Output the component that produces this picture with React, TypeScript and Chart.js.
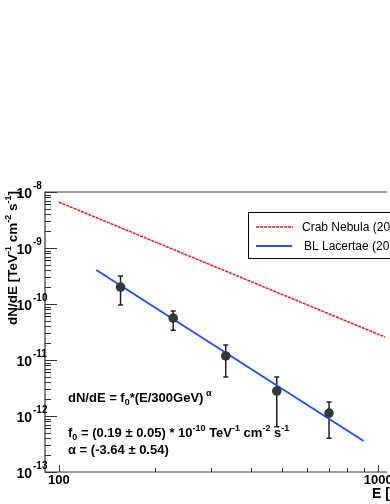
import React, { useEffect, useRef } from "react";
import { Chart, registerables } from "chart.js";

Chart.register(...registerables);

// ---- data ----
const energies = [156, 228, 333, 481, 701]; // GeV
const fluxValues = [2.01e-10, 5.6e-11, 1.18e-11, 2.79e-12, 1.13e-12];
const fluxErrHigh = [3.16e-10, 7.5e-11, 1.85e-11, 4.97e-12, 1.78e-12];
const fluxErrLow = [9.6e-11, 3.4e-11, 4.97e-12, 6.4e-13, 4.0e-13];

const fitEnergies = [131, 900];
const fitFlux = [4.05e-10, 3.58e-13];

const crabEnergies = [100, 1100];
const crabFlux = [6.6e-9, 2.3e-11];

const xTickValues = [100, 200, 300, 400, 500, 600, 700, 800, 900, 1000];
const xTickLabels = ["100", "", "", "", "", "", "", "", "", "1000"];
const yDecadeExponents = [-8, -9, -10, -11, -12, -13];

const legendLabels = ["Crab Nebula (2004)", "BL Lacertae (2005)"];

const RED = "#ff1010";
const BLUE = "#2850f5";
const MARKER = "#2f3a3a";
const AXIS = "#333333";

type Part = { t: string; sup?: boolean; sub?: boolean };

function drawRich(ctx: CanvasRenderingContext2D, parts: Part[], x: number, y: number, size: number, weight = "bold") {
  let cx = x;
  for (const p of parts) {
    const s = p.sup || p.sub ? Math.round(size * 0.68) : size;
    ctx.font = `${weight} ${s}px "Liberation Sans", Arial, sans-serif`;
    const dy = p.sup ? -size * 0.45 : p.sub ? size * 0.25 : 0;
    ctx.fillText(p.t, cx, y + dy);
    cx += ctx.measureText(p.t).width;
  }
  return cx - x;
}

const customPlugin = {
  id: "rootStyle",
  beforeDatasetsDraw(chart: any) {
    const ctx = chart.ctx as CanvasRenderingContext2D;
    const xs = chart.scales.x;
    const ys = chart.scales.y;
    ctx.save();
    ctx.strokeStyle = "#222";
    ctx.lineWidth = 1.5;
    energies.forEach((e, i) => {
      const px = xs.getPixelForValue(e);
      const top = ys.getPixelForValue(fluxErrHigh[i]);
      const bot = ys.getPixelForValue(fluxErrLow[i]);
      ctx.beginPath();
      ctx.moveTo(px, top);
      ctx.lineTo(px, bot);
      ctx.moveTo(px - 2.5, top);
      ctx.lineTo(px + 2.5, top);
      ctx.moveTo(px - 2.5, bot);
      ctx.lineTo(px + 2.5, bot);
      ctx.stroke();
    });
    ctx.restore();
  },
  afterDraw(chart: any) {
    const ctx = chart.ctx as CanvasRenderingContext2D;
    const { left, top, right, bottom } = chart.chartArea;
    const xs = chart.scales.x;
    const ys = chart.scales.y;
    ctx.save();
    // frame
    ctx.strokeStyle = AXIS;
    ctx.lineWidth = 1.2;
    ctx.beginPath();
    ctx.moveTo(right + 2, top);
    ctx.lineTo(left, top);
    ctx.lineTo(left, bottom);
    ctx.lineTo(right + 2, bottom);
    ctx.stroke();

    // x ticks
    ctx.lineWidth = 1;
    xTickValues.forEach((v, i) => {
      const px = Math.round(xs.getPixelForValue(v)) + 0.5;
      const len = xTickLabels[i] ? 7 : 4;
      ctx.beginPath();
      ctx.moveTo(px, bottom);
      ctx.lineTo(px, bottom - len);
      ctx.stroke();
    });
    // y ticks
    yDecadeExponents.forEach((ex) => {
      const base = Math.pow(10, ex);
      const py = Math.round(ys.getPixelForValue(base)) + 0.5;
      ctx.beginPath();
      ctx.moveTo(left, py);
      ctx.lineTo(left + 12, py);
      ctx.stroke();
      for (let m = 2; m <= 9; m++) {
        const v = base * m * 0.1;
        if (v < 1e-13) continue;
        const pm = Math.round(ys.getPixelForValue(v)) + 0.5;
        ctx.beginPath();
        ctx.moveTo(left, pm);
        ctx.lineTo(left + 6, pm);
        ctx.stroke();
      }
    });

    ctx.fillStyle = "#000";
    ctx.textBaseline = "alphabetic";
    // y labels
    yDecadeExponents.forEach((ex) => {
      const py = ys.getPixelForValue(Math.pow(10, ex));
      ctx.font = `bold 14px "Liberation Sans", Arial, sans-serif`;
      ctx.textAlign = "right";
      ctx.fillText("10", 32, py + 6);
      ctx.textAlign = "left";
      ctx.font = `bold 10px "Liberation Sans", Arial, sans-serif`;
      ctx.fillText(String(ex), 33, py - 3);
    });
    // x labels
    ctx.font = `bold 13px "Liberation Sans", Arial, sans-serif`;
    ctx.textAlign = "center";
    xTickValues.forEach((v, i) => {
      if (!xTickLabels[i]) return;
      ctx.fillText(xTickLabels[i], xs.getPixelForValue(v), bottom + 12);
    });
    // x title
    ctx.textAlign = "left";
    ctx.font = `bold 14px "Liberation Sans", Arial, sans-serif`;
    ctx.fillText("E [GeV]", 372, 498);

    // y title
    ctx.save();
    ctx.translate(17, 325);
    ctx.rotate(-Math.PI / 2);
    ctx.textAlign = "left";
    drawRich(
      ctx,
      [
        { t: "dN/dE [TeV" },
        { t: "-1", sup: true },
        { t: " cm" },
        { t: "-2", sup: true },
        { t: " s" },
        { t: "-1", sup: true },
        { t: "]" },
      ],
      0,
      0,
      13.5
    );
    ctx.restore();

    // annotations
    ctx.textAlign = "left";
    drawRich(
      ctx,
      [{ t: "dN/dE = f" }, { t: "0", sub: true }, { t: "*(E/300GeV)" }, { t: " α", sup: true }],
      68,
      402,
      13
    );
    drawRich(
      ctx,
      [
        { t: "f" },
        { t: "0", sub: true },
        { t: " = (0.19 ± 0.05) * 10" },
        { t: "-10", sup: true },
        { t: " TeV" },
        { t: "-1", sup: true },
        { t: " cm" },
        { t: "-2", sup: true },
        { t: " s" },
        { t: "-1", sup: true },
      ],
      68,
      437,
      13
    );
    drawRich(ctx, [{ t: "α = (-3.64 ± 0.54)" }], 68, 454, 13);

    // legend
    ctx.fillStyle = "#fff";
    ctx.fillRect(248, 212, 200, 46);
    ctx.strokeStyle = "#000";
    ctx.lineWidth = 1;
    ctx.strokeRect(248.5, 212.5, 200, 46);
    ctx.lineWidth = 1.5;
    ctx.strokeStyle = RED;
    ctx.setLineDash([3, 1]);
    ctx.beginPath();
    ctx.moveTo(256, 227);
    ctx.lineTo(293, 227);
    ctx.stroke();
    ctx.setLineDash([]);
    ctx.strokeStyle = BLUE;
    ctx.lineWidth = 2;
    ctx.beginPath();
    ctx.moveTo(256, 246);
    ctx.lineTo(292, 246);
    ctx.stroke();
    ctx.fillStyle = "#000";
    ctx.font = `12px "Liberation Sans", Arial, sans-serif`;
    ctx.fillText(legendLabels[0], 302, 231);
    ctx.fillText(legendLabels[1], 304, 250);
    ctx.restore();
  },
};

export default function App() {
  const ref = useRef<HTMLCanvasElement | null>(null);
  useEffect(() => {
    if (!ref.current) return;
    const chart = new Chart(ref.current, {
      type: "scatter",
      data: {
        datasets: [
          {
            label: "data",
            data: energies.map((e, i) => ({ x: e, y: fluxValues[i] })),
            pointRadius: 4.8,
            pointBackgroundColor: MARKER,
            pointBorderWidth: 0,
            showLine: false,
            order: 0,
          },
          {
            label: legendLabels[1],
            data: fitEnergies.map((e, i) => ({ x: e, y: fitFlux[i] })),
            showLine: true,
            borderColor: BLUE,
            borderWidth: 2,
            pointRadius: 0,
            order: 1,
          },
          {
            label: legendLabels[0],
            data: crabEnergies.map((e, i) => ({ x: e, y: crabFlux[i] })),
            showLine: true,
            borderColor: RED,
            borderWidth: 1.5,
            borderDash: [3, 1],
            pointRadius: 0,
            order: 2,
          },
        ],
      },
      options: {
        responsive: false,
        animation: false,
        layout: { padding: { left: 45, top: 192, right: 0, bottom: 32 } },
        plugins: { legend: { display: false }, tooltip: { enabled: false } },
        scales: {
          x: { type: "logarithmic", min: 90.5, max: 1051, display: false },
          y: { type: "logarithmic", min: 1e-13, max: 1e-8, display: false },
        },
      },
      plugins: [customPlugin],
    });
    return () => chart.destroy();
  }, []);
  return (
    <div style={{ position: "absolute", left: 0, top: 0, width: 390, height: 504, background: "#fff" }}>
      <canvas ref={ref} width={390} height={504} />
    </div>
  );
}
